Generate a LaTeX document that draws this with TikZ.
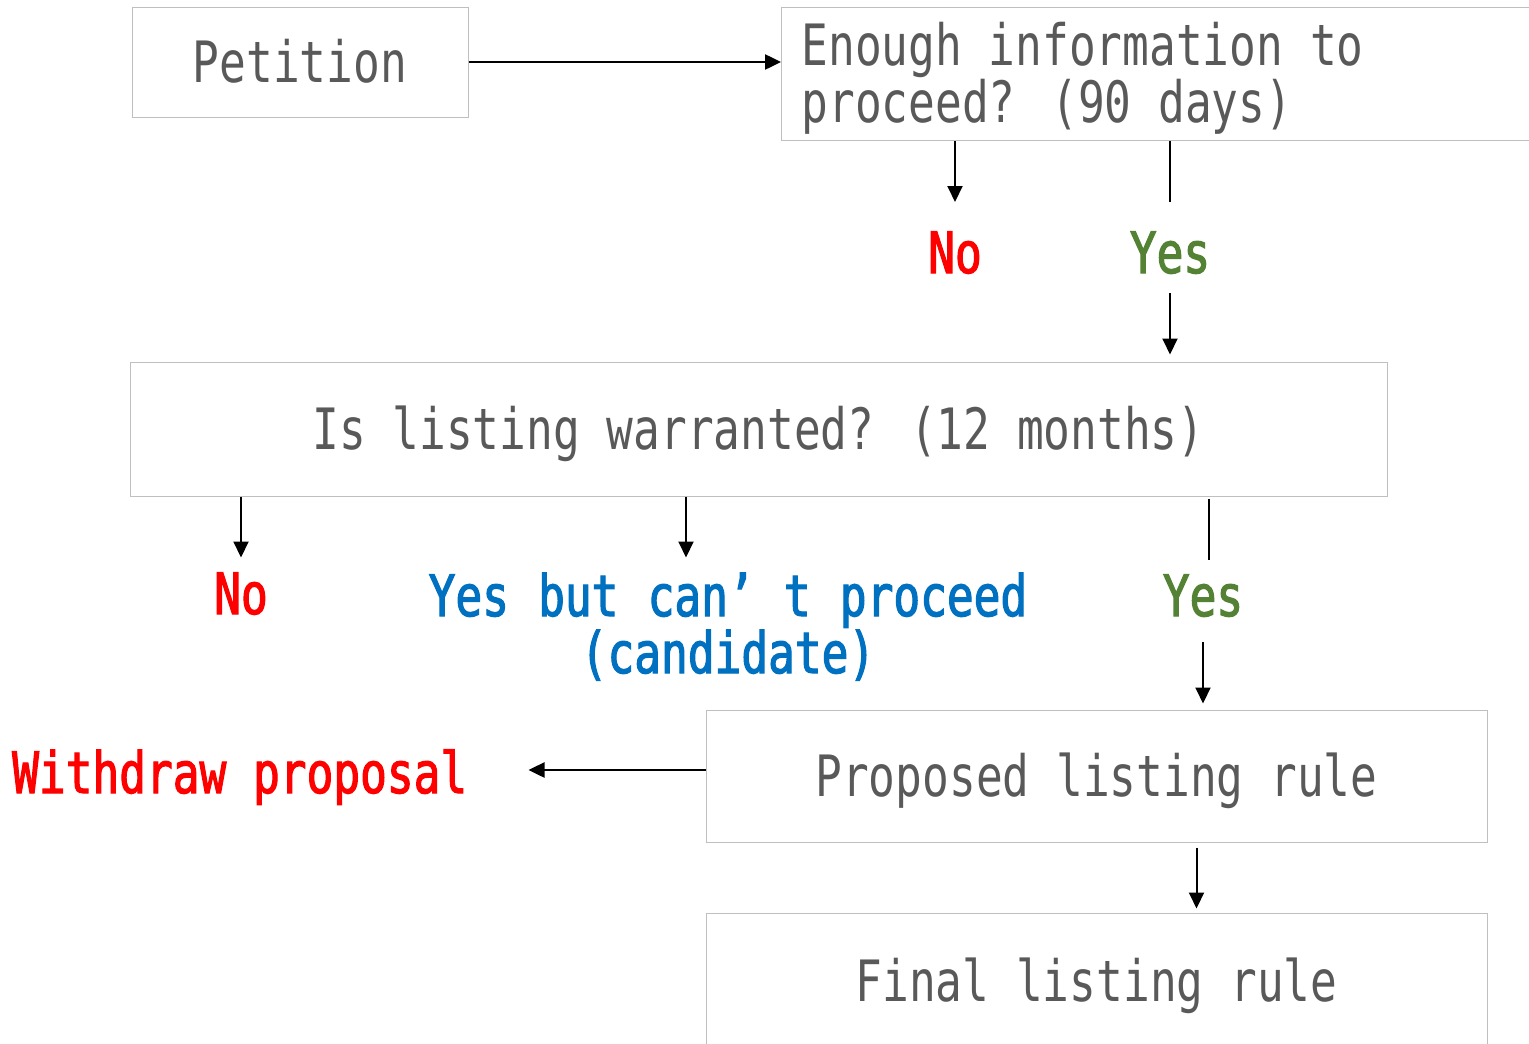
\documentclass[tikz,border=0pt]{standalone}
\usepackage{fontspec}
\usetikzlibrary{arrows.meta}
\newfontfamily\gfont[FakeStretch=0.78]{DejaVu Sans Mono}
\newfontfamily\cfont[FakeStretch=0.78, FakeBold=2]{DejaVu Sans Mono}
\definecolor{boxgray}{HTML}{BFBFBF}
\definecolor{txtgray}{HTML}{595959}
\definecolor{nored}{HTML}{FF0000}
\definecolor{yesgreen}{HTML}{548235}
\definecolor{midblue}{HTML}{0070C0}
\newcommand{\normsp}{\spaceskip=0pt\xspaceskip=0pt\relax}
\begin{document}
\begin{tikzpicture}[x=1pt,y=-1pt,
  every node/.style={font=\gfont\fontsize{57}{57}\selectfont},
  box/.style={draw=boxgray, line width=1pt, text=txtgray, inner sep=0pt, text height=42pt, text depth=2pt},
  lbl/.style={font=\cfont\fontsize{57}{57}\selectfont, inner sep=0pt, anchor=base},
  arr/.style={draw=black, line width=2pt, -{Triangle[length=16pt,width=15pt]}},
  harr/.style={draw=black, line width=2.5pt, -{Triangle[length=16pt,width=15pt]}},
  ln/.style={draw=black, line width=2pt}]
\clip (0,0) rectangle (1529,1044);
\fill[white] (0,0) rectangle (1529,1044);
% boxes
\node[box, minimum width=336pt, minimum height=110pt] (pet) at (300,62) {Petition};
\node[box, anchor=north west, inner xsep=20pt, inner ysep=16pt, text width=760pt, align=left,
      text height=42pt, text depth=59pt] (enough) at (781,7)
      {\normsp Enough information to\\proceed? (90 days)};
\node[box, minimum width=1257pt, minimum height=134pt] (listing) at (758.5,429) {Is listing warranted? (12 months)};
\node[box, minimum width=781pt, minimum height=132pt] (proposed) at (1096.5,776) {Proposed listing rule};
\node[box, minimum width=781pt, minimum height=137pt] (final) at (1096.5,981.5) {Final listing rule};
% labels
\node[lbl, text=nored] (no1) at (955,273) {No};
\node[lbl, text=yesgreen] (yes1) at (1170,273) {Yes};
\node[lbl, text=nored] (no2) at (241,614) {No};
\node[lbl, text=midblue, text width=640pt, align=center] (ybc) at (728,616) {\normsp Yes but can’ t proceed\\(candidate)};
\node[lbl, text=yesgreen] (yes2) at (1203,616) {Yes};
\node[lbl, text=nored, anchor=base west] (wd) at (12,793) {Withdraw proposal};
% connectors
\draw[harr] (pet.east) -- (pet.east -| enough.west);
\draw[arr] (enough.south -| no1) -- ++(0,61);
\draw[ln] (enough.south -| yes1) -- ++(0,61);
\draw[arr, shorten >=7pt] ([yshift=-20pt]yes1.base) -- (yes1 |- listing.north);
\draw[arr] (listing.south -| no2) -- ++(0,61);
\draw[arr] ([xshift=-72.5pt]listing.south) -- ++(0,61);
\draw[ln] ([xshift=450.5pt,yshift=-2pt]listing.south) -- ++(0,61);
\draw[arr, shorten >=6pt] ([yshift=-26pt]yes2.base) -- (yes2 |- proposed.north);
\draw[harr] ([yshift=6pt]proposed.west) -- ++(-177,0);
\draw[arr] ([xshift=100pt,yshift=-5pt]proposed.south) -- ([xshift=100pt,yshift=4pt]final.north);
\end{tikzpicture}
\end{document}
